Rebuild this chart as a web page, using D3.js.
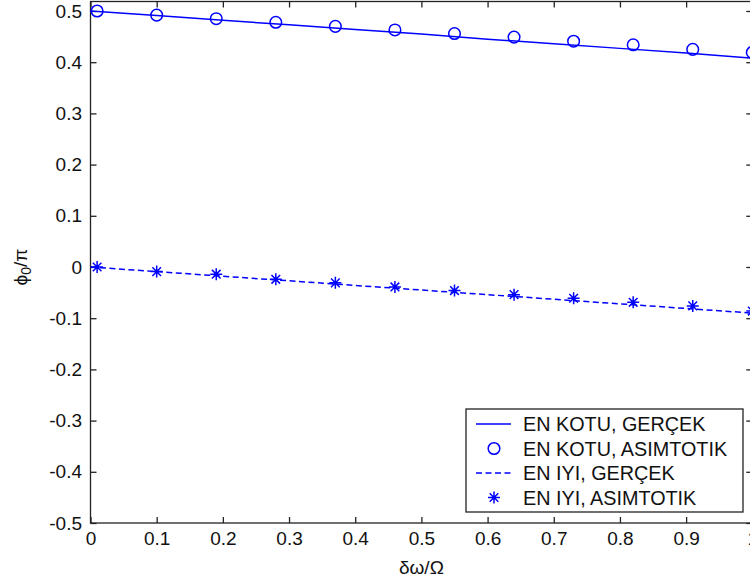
<!DOCTYPE html>
<html>
<head>
<meta charset="utf-8">
<script src="https://cdn.jsdelivr.net/npm/d3@7"></script>
<style>
  body { margin: 0; background: #fff; }
  svg { display: block; font-family: "Liberation Sans", Arial, sans-serif; }
</style>
</head>
<body>
<div id="chart"></div>
<script>
// data
var xExact = [0, 0.1, 0.2, 0.3, 0.4, 0.5, 0.6, 0.7, 0.8, 0.9, 1.0];
var worstExact = [0.500, 0.491, 0.482, 0.473, 0.464, 0.455, 0.445, 0.436, 0.427, 0.418, 0.408];
var bestExact = [0, -0.009, -0.018, -0.027, -0.036, -0.045, -0.054, -0.063, -0.072, -0.081, -0.090];

var xAsym = [0.01, 0.10, 0.19, 0.28, 0.37, 0.46, 0.55, 0.64, 0.73, 0.82, 0.91, 1.00];
var worstAsym = [0.500, 0.492, 0.485, 0.478, 0.470, 0.463, 0.456, 0.449, 0.441, 0.434, 0.425, 0.419];
var bestAsym = [0, -0.009, -0.014, -0.024, -0.031, -0.039, -0.046, -0.054, -0.061, -0.069, -0.076, -0.086];

var xTicks = [0, 0.1, 0.2, 0.3, 0.4, 0.5, 0.6, 0.7, 0.8, 0.9, 1];
var yTicks = [-0.5, -0.4, -0.3, -0.2, -0.1, 0, 0.1, 0.2, 0.3, 0.4, 0.5];

var legendLabels = ["EN KOTU, GERÇEK", "EN KOTU, ASIMTOTIK", "EN IYI, GERÇEK", "EN IYI, ASIMTOTIK"];

var W = 750, H = 584;
var blue = "#0000ff", axisColor = "#222";

var svg = d3.select("#chart").append("svg")
    .attr("width", W)
    .attr("height", H);

// the plot box runs a little past the right edge of the picture
var x = d3.scaleLinear().domain([0, 1]).range([90.5, 752.3]);
var y = d3.scaleLinear().domain([-0.5, 0.5]).range([523, 11]);
var yTop = y.invert(1.5);

var fmt = function(d){ return d3.format("")(+d.toFixed(1)).replace("\u2212", "-"); };

// frame
svg.append("rect")
    .attr("x", x(0)).attr("y", y(yTop))
    .attr("width", x(1) - x(0)).attr("height", y(-0.5) - y(yTop))
    .attr("fill", "none").attr("stroke", axisColor).attr("stroke-width", 1.3);

function styleAxis(g){
    g.select(".domain").remove();
    g.selectAll(".tick line").attr("stroke", axisColor).attr("stroke-width", 1.3);
    g.selectAll("text").attr("fill", "#111").style("font-size", "19px").attr("font-family", null);
}

svg.append("g")
    .attr("transform", "translate(0," + y(-0.5) + ")")
    .call(d3.axisBottom(x).tickValues(xTicks).tickFormat(fmt).tickSizeInner(-6).tickSizeOuter(0).tickPadding(9))
    .call(styleAxis);

svg.append("g")
    .attr("transform", "translate(" + x(0) + ",0)")
    .call(d3.axisLeft(y).tickValues(yTicks).tickFormat(fmt).tickSizeInner(-6).tickSizeOuter(0).tickPadding(8.5))
    .call(styleAxis);

svg.append("g")
    .attr("transform", "translate(0," + y(yTop) + ")")
    .call(d3.axisTop(x).tickValues(xTicks).tickFormat("").tickSizeInner(-6).tickSizeOuter(0))
    .call(styleAxis);

svg.append("g")
    .attr("transform", "translate(" + x(1) + ",0)")
    .call(d3.axisRight(y).tickValues(yTicks).tickFormat("").tickSizeInner(-6).tickSizeOuter(0))
    .call(styleAxis);

// axis titles
svg.append("text")
    .attr("x", x(0.5)).attr("y", 574)
    .attr("text-anchor", "middle")
    .style("font-size", "19px").attr("fill", "#111")
    .text("δω/Ω");

var yl = svg.append("text")
    .attr("transform", "translate(27," + y(0) + ") rotate(-90)")
    .attr("text-anchor", "middle")
    .style("font-size", "19px").attr("fill", "#111");
yl.append("tspan").text("\u03D5");
yl.append("tspan").attr("dy", 4).style("font-size", "14px").text("0");
yl.append("tspan").attr("dy", -4).text("/π");

// lines
var line = d3.line()
    .x(function(d){ return x(d[0]); })
    .y(function(d){ return y(d[1]); });

var plot = svg.append("g");

plot.append("path")
    .datum(d3.zip(xExact, worstExact))
    .attr("d", line)
    .attr("fill", "none").attr("stroke", blue).attr("stroke-width", 1.5);

plot.append("path")
    .datum(d3.zip(xExact, bestExact))
    .attr("d", line)
    .attr("fill", "none").attr("stroke", blue).attr("stroke-width", 1.5)
    .attr("stroke-dasharray", "6,3.5");

plot.selectAll("circle.asym")
    .data(d3.zip(xAsym, worstAsym))
    .enter().append("circle")
    .attr("class", "asym")
    .attr("cx", function(d){ return x(d[0]); })
    .attr("cy", function(d){ return y(d[1]); })
    .attr("r", 5.8)
    .attr("fill", "none").attr("stroke", blue).attr("stroke-width", 1.5);

function star(g, r){
    var d = r * 0.72;
    g.append("path")
        .attr("d", "M" + (-r) + ",0H" + r + "M0," + (-r) + "V" + r +
                   "M" + (-d) + "," + (-d) + "L" + d + "," + d +
                   "M" + (-d) + "," + d + "L" + d + "," + (-d))
        .attr("fill", "none").attr("stroke", blue).attr("stroke-width", 1.5);
    g.append("circle").attr("r", 1.8).attr("fill", blue);
}

plot.selectAll("g.star")
    .data(d3.zip(xAsym, bestAsym))
    .enter().append("g")
    .attr("class", "star")
    .attr("transform", function(d){ return "translate(" + x(d[0]) + "," + y(d[1]) + ")"; })
    .each(function(){ star(d3.select(this), 6); });

// legend
var lx = 466, ly = 409, lw = 277, lh = 103;
var legend = svg.append("g");
legend.append("rect")
    .attr("x", lx).attr("y", ly).attr("width", lw).attr("height", lh)
    .attr("fill", "#fff").attr("stroke", axisColor).attr("stroke-width", 1.3);

var rowY = [424, 448.5, 473, 497.5];
legendLabels.forEach(function(label, i){
    var cy = rowY[i];
    if (i == 0 || i == 2) {
        legend.append("line")
            .attr("x1", 476).attr("x2", 511).attr("y1", cy).attr("y2", cy)
            .attr("stroke", blue).attr("stroke-width", 1.5)
            .attr("stroke-dasharray", i == 2 ? "6,3.5" : null);
    } else if (i == 1) {
        legend.append("circle")
            .attr("cx", 494).attr("cy", cy).attr("r", 5.8)
            .attr("fill", "none").attr("stroke", blue).attr("stroke-width", 1.5);
    } else {
        star(legend.append("g").attr("transform", "translate(494," + cy + ")"), 6);
    }
    legend.append("text")
        .attr("x", 523).attr("y", cy + 7)
        .style("font-size", "19.8px").attr("fill", "#111")
        .text(label);
});
</script>
</body>
</html>
